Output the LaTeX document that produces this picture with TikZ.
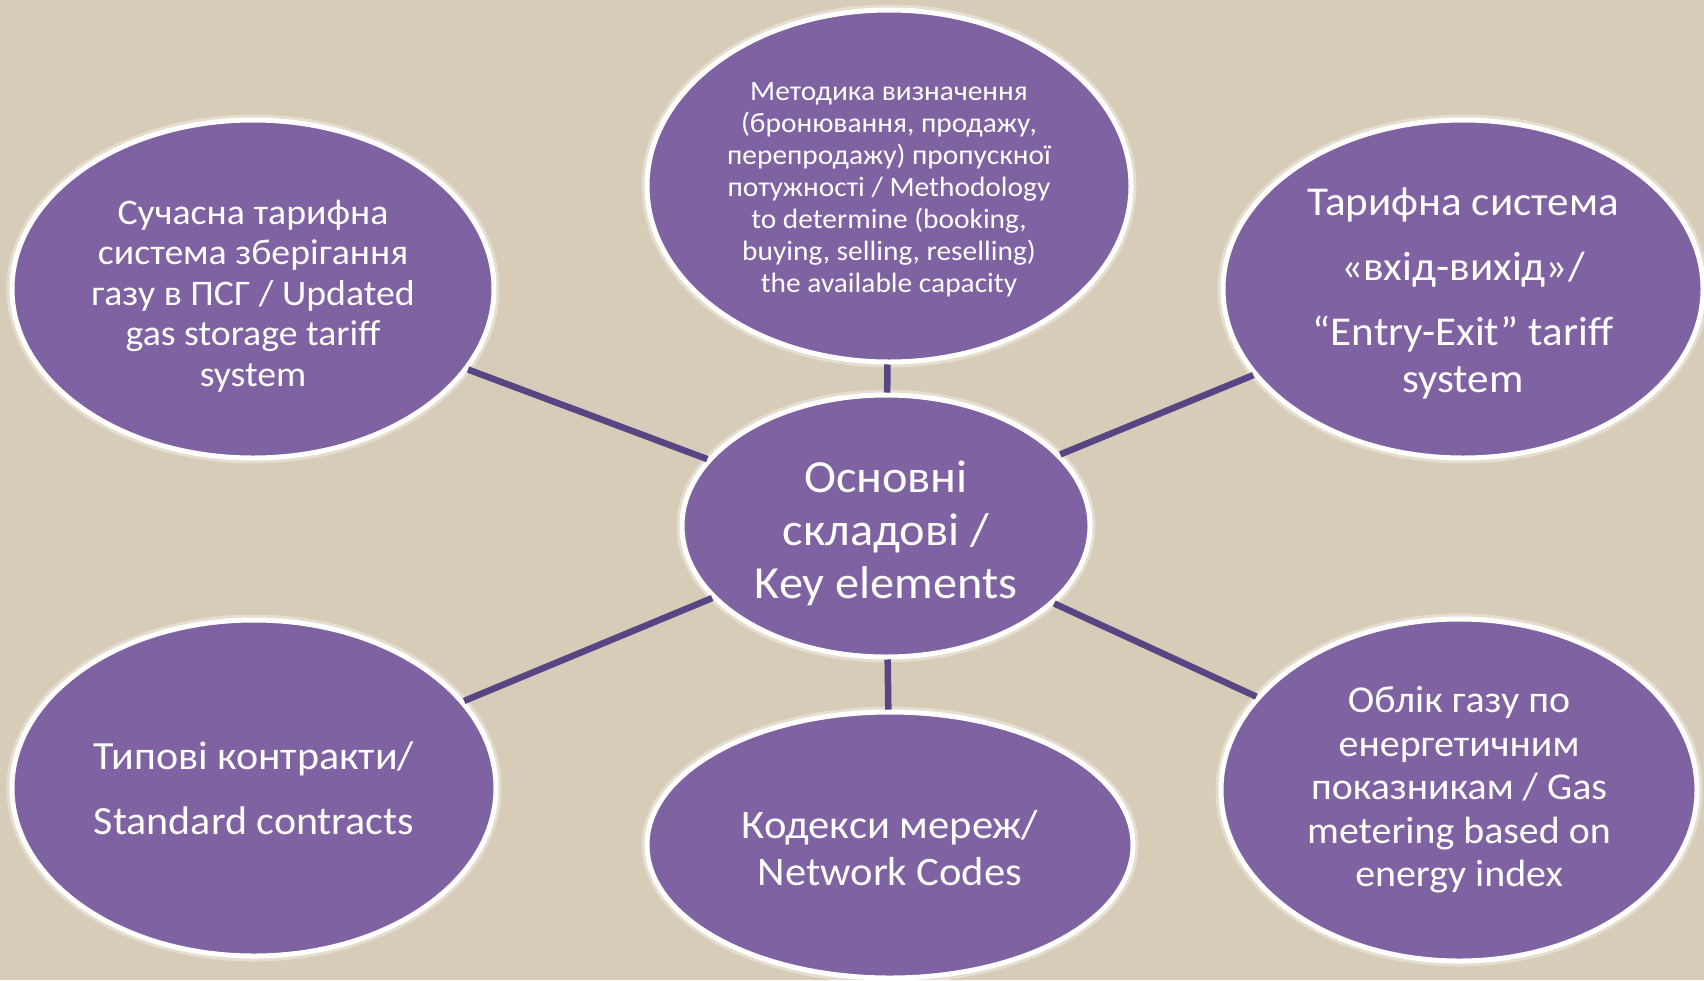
\documentclass[tikz,border=0pt]{standalone}
\usepackage{fontspec}
\setmainfont{Carlito}[FakeStretch=1.05]
\usetikzlibrary{shapes.geometric}
\definecolor{bgc}{HTML}{D6CCB7}
\definecolor{fillc}{HTML}{7E62A1}
\definecolor{linec}{HTML}{584684}
\tikzset{
  bubble/.style={ellipse, fill=fillc, draw=white, line width=5pt, inner sep=0pt,
    preaction={draw=white, opacity=0.35, line width=11pt}},
  btext/.style={text=white, align=center, inner sep=0pt},
  link/.style={draw=linec, line width=6.5pt}
}
\begin{document}
\begin{tikzpicture}[x=1pt,y=-1pt]
\useasboundingbox (0,0) rectangle (1704,980);
\clip (0,0) rectangle (1704,980);
\fill[bgc] (0,0) rectangle (1704,980);

\node[bubble, minimum width=484pt, minimum height=352pt] (tm) at (889,186) {};
\node[bubble, minimum width=482pt, minimum height=338pt] (tl) at (253,289) {};
\node[bubble, minimum width=480pt, minimum height=338pt] (tr) at (1463,289) {};
\node[bubble, minimum width=408pt, minimum height=262pt] (c) at (886,526) {};
\node[bubble, minimum width=484pt, minimum height=336pt] (bl) at (254,788) {};
\node[bubble, minimum width=486pt, minimum height=266pt] (bm) at (890,845) {};
\node[bubble, minimum width=476pt, minimum height=342pt] (br) at (1459,790) {};

\node[btext, font=\fontsize{28}{32}\selectfont] (tmt) at ([yshift=-4pt]tm.center)
  {Методика визначення\\(бронювання, продажу,\\перепродажу) пропускної\\потужності / Methodology\\to determine (booking,\\buying, selling, reselling)\\the available capacity};

\node[btext, font=\fontsize{36}{40.5}\selectfont] (tlt) at ([yshift=-7pt]tl.center)
  {Сучасна тарифна\\система зберігання\\газу в ПСГ / Updated\\gas storage tariff\\system};

\node[btext, font=\fontsize{41}{47}\selectfont] (trt) at ([yshift=-4pt]tr.center)
  {Тарифна система\\[18pt]«вхід-вихід»/\\[18pt]“Entry-Exit” tariff\\system};

\node[btext, font=\fontsize{46}{53}\selectfont] (ct) at ([yshift=-7pt]c.center)
  {Основні\\складові /\\Key elements};

\node[btext, font=\fontsize{40}{65}\selectfont] (blt) at ([yshift=0pt]bl.center)
  {Типові контракти/\\Standard contracts};

\node[btext, font=\fontsize{40.5}{47}\selectfont] (bmt) at ([yshift=-3pt]bm.center)
  {Кодекси мереж/\\Network Codes};

\node[btext, font=\fontsize{38}{43.5}\selectfont] (brt) at ([yshift=0pt]br.center)
  {Облік газу по\\енергетичним\\показникам / Gas\\metering based on\\energy index};

\draw[link] (c) -- (tl);
\draw[link] (c) -- (tm);
\draw[link] (c) -- (tr);
\draw[link] (c) -- (bl);
\draw[link] (c) -- (bm);
\draw[link] (c) -- (br);
\end{tikzpicture}
\end{document}
